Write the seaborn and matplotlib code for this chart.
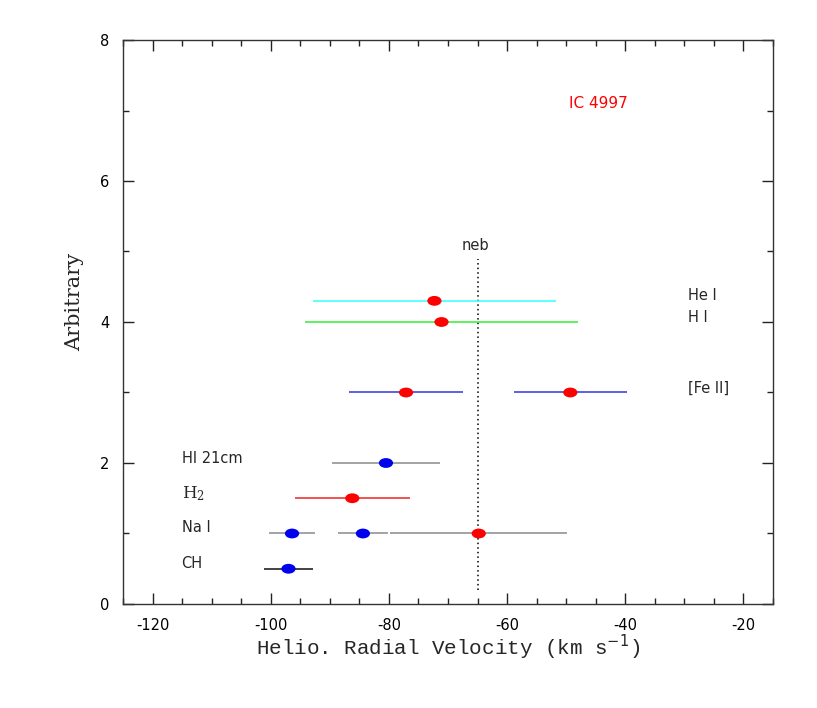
import matplotlib.pyplot as plt
import matplotlib.ticker as mticker
import numpy as np
import pandas as pd
import seaborn as sns
from matplotlib.path import Path

# measured velocities (km/s), half widths and plotting rows
species = ["He I", "H I", "[Fe II]", "[Fe II]", "HI 21cm", "H2", "Na I", "Na I", "Na I", "CH"]
velocity = [-72.3, -71.1, -77.1, -49.3, -80.5, -86.2, -96.4, -84.4, -64.8, -97.0]
half_width = [20.6, 23.1, 9.6, 9.6, 9.1, 9.7, 3.9, 4.3, 15.0, 4.2]
row = [4.3, 4.0, 3.0, 3.0, 2.0, 1.5, 1.0, 1.0, 1.0, 0.5]
dot_kind = ["neb", "neb", "neb", "neb", "ism", "neb", "ism", "ism", "neb", "ism"]
line_colour = ["#33ffff", "#33ee33", "#3333dd", "#3333dd", "#8a8a8a",
               "#ee2222", "#8a8a8a", "#8a8a8a", "#8a8a8a", "#111111"]

right_labels = ["He I", "H I", "[Fe II]"]
right_label_y = [4.38, 4.07, 3.06]
left_labels = ["HI 21cm", "$\\mathregular{H_2}$", "Na I", "CH"]
left_label_y = [2.07, 1.57, 1.08, 0.57]

neb_velocity = -65.0
x_ticks = [-120, -100, -80, -60, -40, -20]
y_ticks = [0, 2, 4, 6, 8]


def ellipse_marker(aspect=1.45):
    """Unit circle stretched sideways, used as scatter marker."""
    circ = Path.unit_circle()
    verts = circ.vertices * np.array([aspect, 1.0])
    return Path(verts, circ.codes)


def plot_velocities(path):
    sns.set_style("ticks")
    plt.rcParams["font.family"] = ["DejaVu Sans"]
    plt.rcParams["axes.unicode_minus"] = False

    df = pd.DataFrame({"species": species, "velocity": velocity,
                       "err": half_width, "row": row, "kind": dot_kind,
                       "lc": line_colour})

    fig = plt.figure(figsize=(8.17, 7.08), dpi=100)
    ax = fig.add_axes([0.1506, 0.1469, 0.7955, 0.7966])

    # horizontal velocity ranges
    for _, r in df.iterrows():
        ax.errorbar(r["velocity"], r["row"], xerr=r["err"], fmt="none",
                    ecolor=r["lc"], elinewidth=1.1, capsize=0, zorder=2)

    # nebular systemic velocity
    ax.plot([neb_velocity, neb_velocity], [0.2, 4.9], color="black",
            linestyle=(0, (1, 2)), linewidth=1.1, zorder=1)
    ax.text(neb_velocity - 0.4, 5.09, "neb", ha="center", va="center", fontsize=10.5)

    sns.scatterplot(
        ax=ax,
        data=df,
        x="velocity",
        y="row",
        hue="kind",
        palette={"neb": "#ff0000", "ism": "#0000ee"},
        marker=ellipse_marker(),
        s=105,
        linewidth=0,
        legend=False,
        zorder=3,
    )

    for lab, yy in zip(right_labels, right_label_y):
        ax.text(-29.4, yy, lab, ha="left", va="center", fontsize=10.5)
    for lab, yy in zip(left_labels, left_label_y):
        if "H_2" in lab:
            ax.text(-115.1, yy, lab, ha="left", va="center", fontsize=12,
                    family="DejaVu Serif")
        else:
            ax.text(-115.1, yy, lab, ha="left", va="center", fontsize=10.5)
    ax.text(-49.5, 7.1, "IC 4997", color="red", ha="left", va="center", fontsize=11)

    ax.set_xlim(-125, -15)
    ax.set_ylim(0, 8)
    ax.set_xticks(x_ticks)
    ax.set_yticks(y_ticks)
    ax.xaxis.set_minor_locator(mticker.MultipleLocator(5))
    ax.yaxis.set_minor_locator(mticker.MultipleLocator(1))
    ax.tick_params(which="both", direction="in", top=True, right=True,
                   colors="#222222", labelsize=10.5, labelcolor="black")
    ax.tick_params(which="major", length=8, width=1, pad=10)
    ax.tick_params(which="minor", length=4, width=1)
    for sp in ax.spines.values():
        sp.set_visible(True)
        sp.set_color("#333333")
        sp.set_linewidth(1.0)

    ax.set_xlabel("Helio. Radial Velocity (km s$^{-1}$)", family="Liberation Mono",
                  fontsize=15, labelpad=0)
    ax.set_ylabel("Arbitrary", family="DejaVu Serif", fontsize=15)
    ax.yaxis.set_label_coords(-0.06, 0.535)

    fig.savefig(path, dpi=100)


if __name__ == "__main__":
    plot_velocities("out.png")
